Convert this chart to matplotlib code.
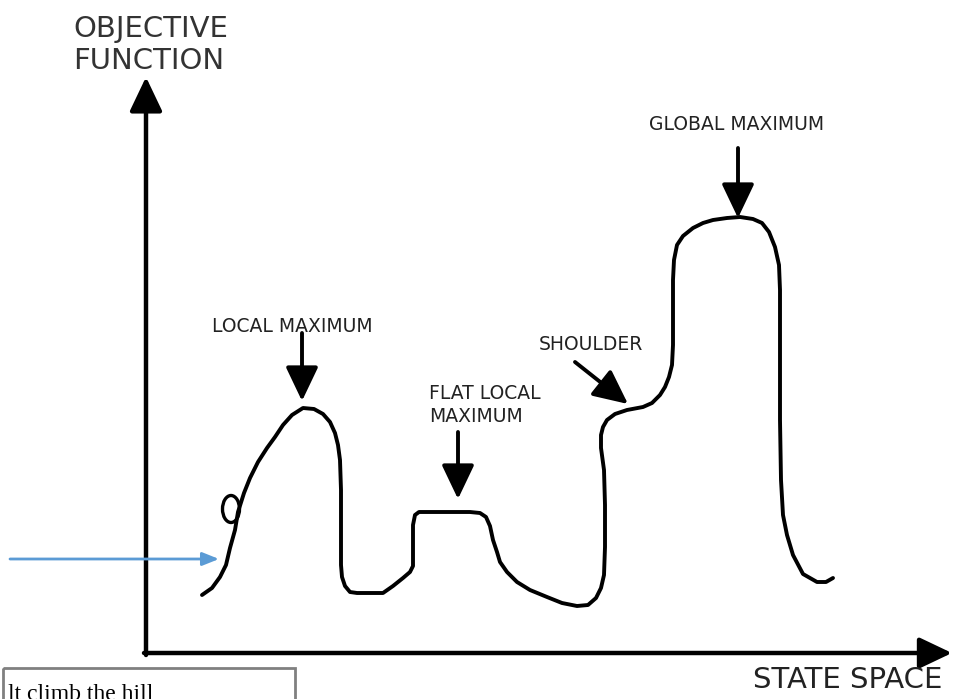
import matplotlib.pyplot as plt
from matplotlib.patches import Ellipse, FancyArrowPatch, Rectangle

# canvas in image pixels (y grows downward)
W, H = 962, 699

# hand-drawn landscape
curve_x = [202, 212, 220, 226, 230, 235, 238, 244, 250, 258, 267, 275, 283, 292,
           303, 314, 323, 330, 335, 338, 340, 341, 341, 341, 342, 345, 350, 357,
           370, 383, 393, 403, 410, 413, 413, 413, 415, 419, 430, 450, 470, 480,
           486, 490, 493, 497, 500, 507, 517, 530, 547, 562, 577, 588, 596, 601,
           604, 605, 605, 604, 601, 601, 603, 607, 615, 627, 643, 652, 660, 665,
           669, 672, 673, 673, 673, 674, 677, 683, 693, 703, 713, 727, 740, 753,
           762, 769, 775, 779, 780, 780, 780, 781, 783, 787, 793, 803, 817, 826, 833]
curve_y = [595, 588, 577, 565, 548, 530, 512, 493, 478, 462, 448, 437, 425, 415,
           408, 409, 414, 422, 433, 445, 460, 490, 530, 565, 577, 586, 592, 593,
           593, 593, 586, 578, 572, 566, 545, 525, 515, 512, 512, 512, 512, 513,
           517, 526, 540, 552, 562, 572, 582, 590, 597, 603, 606, 605, 598, 588,
           575, 547, 505, 470, 448, 435, 427, 420, 414, 410, 407, 403, 395, 387,
           377, 365, 345, 310, 280, 260, 245, 236, 228, 223, 220, 218, 217, 219,
           223, 232, 247, 265, 290, 350, 420, 480, 515, 535, 555, 574, 582, 582, 578]

# little circle on the left slope
circle_center = (231, 509)
circle_size = (17, 27)

# labels: (text, x, y, ha)
labels = [("LOCAL MAXIMUM", 292, 326, "center"),
          ("FLAT LOCAL\nMAXIMUM", 429, 405, "left"),
          ("SHOULDER", 591, 345, "center"),
          ("GLOBAL MAXIMUM", 737, 124, "center")]

# label arrows: (x_start, y_start, x_end, y_end)
label_arrows = [(302, 333, 302, 401),
                (458, 432, 458, 499),
                (575, 362, 628, 404),
                (738, 148, 738, 218)]

fig = plt.figure(figsize=(W / 100, H / 100), dpi=100)
ax = fig.add_axes([0, 0, 1, 1])
ax.set_xlim(0, W)
ax.set_ylim(H, 0)
ax.axis("off")

# axes of the diagram
ax.annotate("", xy=(146, 77), xytext=(146, 655),
            arrowprops=dict(arrowstyle="-|>,head_length=2.1,head_width=1.0",
                            lw=3.2, color="black", shrinkA=0, shrinkB=0))
ax.annotate("", xy=(952, 653), xytext=(144, 653),
            arrowprops=dict(arrowstyle="-|>,head_length=2.0,head_width=0.95",
                            lw=3.2, color="black", shrinkA=0, shrinkB=0))

ax.text(73, 45, "OBJECTIVE\nFUNCTION", fontsize=21, color="#333333",
        ha="left", va="center", linespacing=1.2)
ax.text(848, 680, "STATE SPACE", fontsize=21, color="#222222",
        ha="center", va="center")

# landscape
ax.plot(curve_x, curve_y, color="black", lw=2.8, solid_joinstyle="round",
        solid_capstyle="round")
ax.add_patch(Ellipse(circle_center, circle_size[0], circle_size[1], fill=False,
                     lw=2.4, edgecolor="black"))

for text, x, y, ha in labels:
    ax.text(x, y, text, fontsize=13.5, color="#222222", ha=ha,
            va="center", linespacing=1.25)

for x0, y0, x1, y1 in label_arrows:
    ax.add_patch(FancyArrowPatch((x0, y0), (x1, y1),
                                 arrowstyle="-|>,head_length=21,head_width=10",
                                 lw=2.8, color="black", shrinkA=0, shrinkB=0))

# blue pointer
ax.annotate("", xy=(219, 559), xytext=(10, 559),
            arrowprops=dict(arrowstyle="-|>,head_length=1.0,head_width=0.4",
                            lw=2, color="#5b9bd5", shrinkA=0, shrinkB=0))

# cut-off text box at the bottom left
ax.add_patch(Rectangle((3, 668), 292, 60, fill=False, lw=2, edgecolor="#808080",
                       clip_on=True))
ax.text(8, 684, "lt climb the hill", fontsize=17, family="Liberation Serif",
        color="black", ha="left", va="top")

fig.savefig("out.png", dpi=100)
